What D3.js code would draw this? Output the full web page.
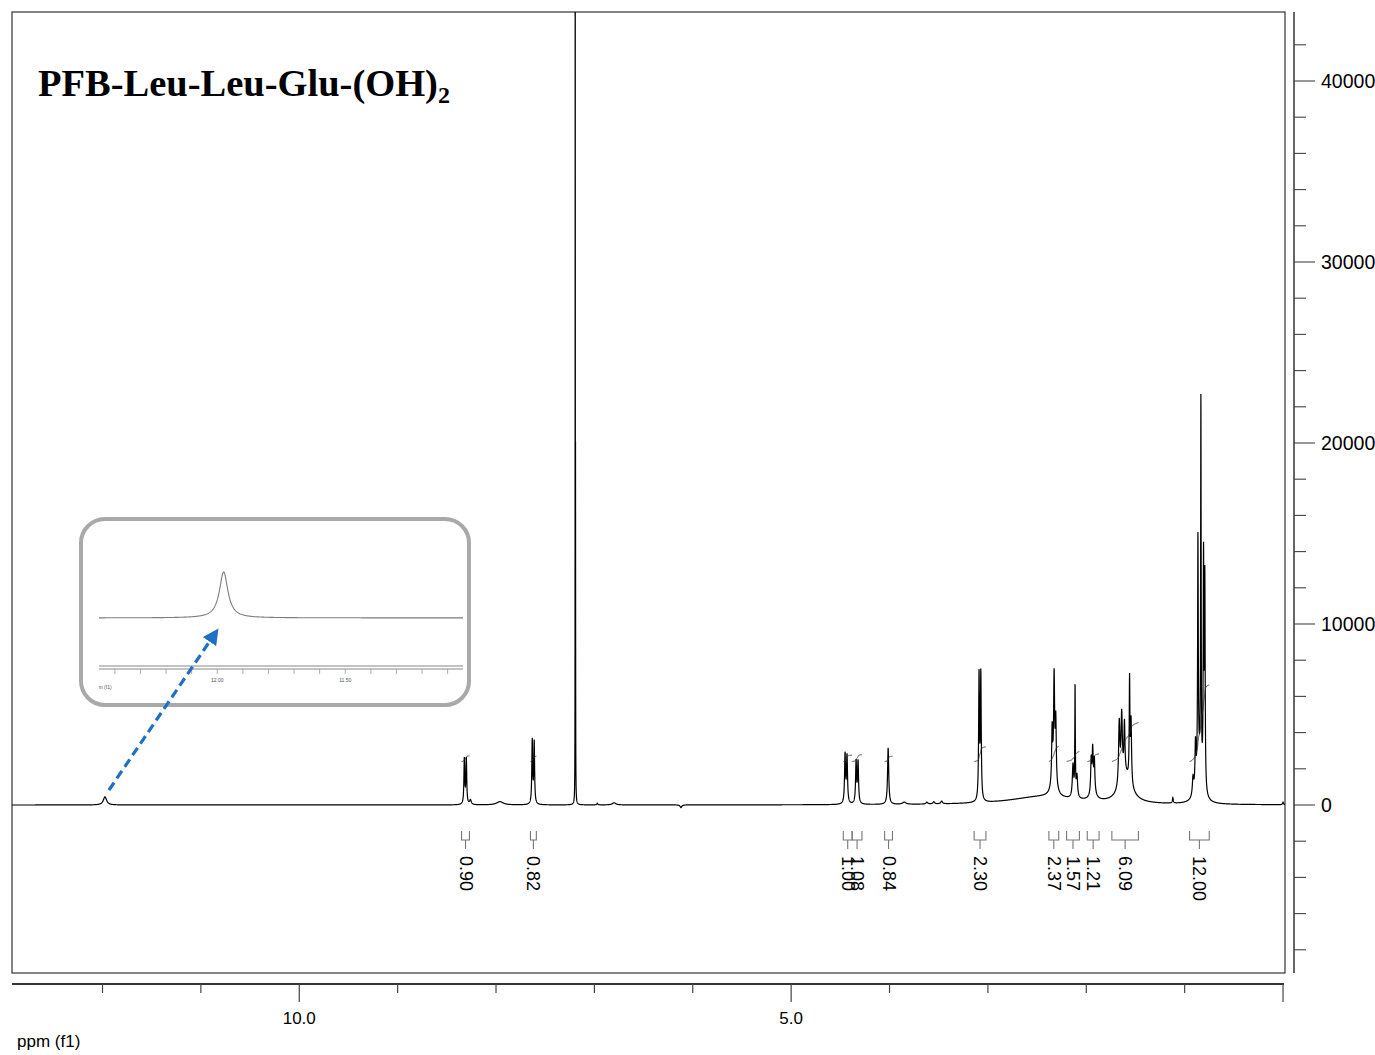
<!DOCTYPE html>
<html><head><meta charset="utf-8">
<script src="https://cdn.jsdelivr.net/npm/d3@7"></script>
<style>body{margin:0;background:#fff}svg{display:block}</style>
</head><body><svg id="c" width="1375" height="1055"></svg>
<script>
// ---- DATA ----
// Resolved peak lines: position (ppm), height (intensity), half-width (ppm)
const peakPpm    = [11.975, 8.322, 8.302, 8.26, 7.96, 7.632, 7.612, 7.195, 7.192, 6.97, 6.80, 6.12,
                    4.452, 4.432, 4.340, 4.320, 4.014, 3.85, 3.62, 3.55, 3.47,
                    3.090, 3.072, 2.45, 2.347, 2.327, 2.310, 2.33, 2.135, 2.114, 2.095,
                    1.950, 1.935, 1.918, 1.93, 1.665, 1.640, 1.612, 1.560, 1.545, 1.60,
                    1.12, 0.915, 0.890, 0.865, 0.835, 0.808, 0.795, 0.85, 0.0];
const peakHeight = [450, 2500, 2500, 250, 180, 3500, 3400, 80000, 17000, 100, 120, -150,
                    2700, 2600, 2300, 2300, 3100, 120, 100, 120, 150,
                    6900, 6900, 450, 3000, 5700, 3500, 800, 1800, 6000, 1200,
                    1800, 2200, 1700, 500, 3500, 3600, 2800, 5500, 3500, 1500,
                    300, 1000, 2500, 13000, 20500, 12500, 11500, 2000, 150];
const peakWidth  = [0.02, 0.005, 0.005, 0.01, 0.04, 0.005, 0.005, 0.0006, 0.0012, 0.005, 0.02, 0.01,
                    0.006, 0.006, 0.006, 0.006, 0.007, 0.02, 0.01, 0.01, 0.01,
                    0.005, 0.005, 0.4, 0.006, 0.006, 0.006, 0.03, 0.008, 0.003, 0.008,
                    0.006, 0.006, 0.006, 0.03, 0.008, 0.008, 0.006, 0.004, 0.006, 0.07,
                    0.005, 0.008, 0.006, 0.004, 0.003, 0.004, 0.004, 0.03, 0.005];

// Integration regions
const integralFrom   = [8.35, 7.65, 4.47, 4.38, 4.05, 3.14, 2.38, 2.20, 1.99, 1.74, 0.95];
const integralTo     = [8.27, 7.59, 4.38, 4.28, 3.97, 3.02, 2.28, 2.07, 1.87, 1.47, 0.75];
const integralLabels = ["0.90", "0.82", "1.00", "1.08", "0.84", "2.30", "2.37", "1.57", "1.21", "6.09", "12.00"];
const integralValues = [0.90, 0.82, 1.00, 1.08, 0.84, 2.30, 2.37, 1.57, 1.21, 6.09, 12.00];

// Axes
const xTicks      = [12, 11, 10, 9, 8, 7, 6, 5, 4, 3, 2, 1, 0];
const xMajorTicks = [10, 5, 0];
const xTickLabels = [{v: 10, t: "10.0"}, {v: 5, t: "5.0"}];
const yMajorTicks = [0, 10000, 20000, 30000, 40000];
const yTickLabels = ["0", "10000", "20000", "30000", "40000"];
const insetTicks = [12.4, 12.3, 12.2, 12.1, 12.0, 11.9, 11.8, 11.7, 11.6, 11.5, 11.4, 11.3, 11.2, 11.1];
const insetTickLabels = [{v: 12.00, t: "12.00"}, {v: 11.50, t: "11.50"}];

const title = "PFB-Leu-Leu-Glu-(OH)";
const titleSub = "2";

// ---- DRAW ----
const svg = d3.select("#c");
const L = 12, R = 1285, T = 12, B = 973;

const x = d3.scaleLinear().domain([12.92, -0.02]).range([L, R]);
const y = d3.scaleLinear().domain([-9282, 43812]).range([B, T]);

function spectrumAt(p) {
  let s = 0;
  for (let i = 0; i < peakPpm.length; i++) {
    const d = (p - peakPpm[i]) / peakWidth[i];
    s += peakHeight[i] / (1 + d * d);
  }
  return s;
}
const grid = d3.range(12.92, -0.021, -0.0008);
const spec = grid.map(p => [p, spectrumAt(p)]);

svg.append("defs").append("clipPath").attr("id", "plotclip")
  .append("rect").attr("x", L).attr("y", T).attr("width", R - L).attr("height", B - T);

// frame
svg.append("rect").attr("x", L).attr("y", T).attr("width", R - L).attr("height", B - T)
  .attr("fill", "none").attr("stroke", "#333").attr("stroke-width", 1.2);

// spectrum
const line = d3.line().x(d => x(d[0])).y(d => y(d[1]));
svg.append("path").datum(spec).attr("d", line).attr("clip-path", "url(#plotclip)")
  .attr("fill", "none").attr("stroke", "#000").attr("stroke-width", 1.2);

// integral curves + brackets + labels
const intG = svg.append("g");
const startLevel = 2400, unitRise = 353;
integralFrom.forEach((a, i) => {
  const b = integralTo[i];
  const pts = grid.filter(p => p <= a && p >= b);
  let cum = 0; const vals = pts.map(p => (cum += spectrumAt(p)));
  const tot = cum || 1;
  const curve = pts.map((p, k) => [p, startLevel + unitRise * integralValues[i] * vals[k] / tot]);
  intG.append("path").datum(curve).attr("d", line).attr("fill", "none")
    .attr("stroke", "#333").attr("stroke-width", 0.9);
  const xa = x(a), xb = x(b), xm = (xa + xb) / 2;
  intG.append("path")
    .attr("d", `M${xa},831V840H${xb}V831M${xm},840V849`)
    .attr("fill", "none").attr("stroke", "#777").attr("stroke-width", 1.1);
  intG.append("text").attr("transform", `translate(${xm},856) rotate(90)`)
    .attr("dominant-baseline", "central").attr("text-anchor", "start")
    .attr("font-family", "Liberation Sans, Arial, sans-serif").attr("font-size", 18)
    .attr("fill", "#000").text(integralLabels[i]);
});

// x axis
const xa = svg.append("g");
xa.append("line").attr("x1", L).attr("x2", 1284).attr("y1", 984).attr("y2", 984)
  .attr("stroke", "#333").attr("stroke-width", 2);
xa.selectAll("line.t").data(xTicks).join("line").attr("class", "t")
  .attr("x1", d => x(d)).attr("x2", d => x(d)).attr("y1", 984)
  .attr("y2", d => xMajorTicks.includes(d) ? 1002 : 993)
  .attr("stroke", "#444").attr("stroke-width", 1.2);
xa.selectAll("text").data(xTickLabels).join("text")
  .attr("x", d => x(d.v)).attr("y", 1024).attr("text-anchor", "middle")
  .attr("font-family", "Liberation Sans, Arial, sans-serif").attr("font-size", 17)
  .text(d => d.t);
svg.append("text").attr("x", 17).attr("y", 1047)
  .attr("font-family", "Liberation Sans, Arial, sans-serif").attr("font-size", 17)
  .text("ppm (f1)");

// y axis (right)
const YX = 1294;
const ya = svg.append("g");
ya.append("line").attr("x1", YX).attr("x2", YX).attr("y1", T).attr("y2", B)
  .attr("stroke", "#333").attr("stroke-width", 1.5);
const yMinor = d3.range(-8000, 43000, 2000);
ya.selectAll("line.t").data(yMinor).join("line").attr("class", "t")
  .attr("x1", YX).attr("x2", d => yMajorTicks.includes(d) ? 1315 : 1306)
  .attr("y1", d => y(d)).attr("y2", d => y(d))
  .attr("stroke", "#444").attr("stroke-width", 1.1);
ya.selectAll("text").data(yMajorTicks).join("text")
  .attr("x", 1321).attr("y", d => y(d)).attr("dominant-baseline", "central")
  .attr("font-family", "Liberation Sans, Arial, sans-serif").attr("font-size", 19.5)
  .text((d, i) => yTickLabels[i]);

// title
const tt = svg.append("text").attr("x", 38).attr("y", 96)
  .attr("font-family", "Liberation Serif, Times New Roman, serif").attr("font-weight", "bold")
  .attr("font-size", 38.5).attr("fill", "#000");
tt.append("tspan").text(title);
tt.append("tspan").attr("font-size", 24).attr("dy", 7).text(titleSub);

// inset
const ig = svg.append("g");
ig.append("rect").attr("x", 81).attr("y", 519).attr("width", 388).attr("height", 186)
  .attr("rx", 24).attr("fill", "#fff").attr("stroke", "#a9a9a9").attr("stroke-width", 4);
const ix = d3.scaleLinear().domain([12.462, 11.04]).range([99, 463]);
const iy = d3.scaleLinear().domain([0, 450]).range([618, 572]);
ig.append("defs").append("clipPath").attr("id", "iclip")
  .append("rect").attr("x", 99).attr("y", 530).attr("width", 364).attr("height", 170);
const igrid = d3.range(12.462, 11.039, -0.002);
ig.append("path").datum(igrid.map(p => [p, spectrumAt(p)]))
  .attr("d", d3.line().x(d => ix(d[0])).y(d => iy(d[1])))
  .attr("fill", "none").attr("stroke", "#7d7d7d").attr("stroke-width", 1.1);
ig.append("line").attr("x1", 99).attr("x2", 463).attr("y1", 666).attr("y2", 666)
  .attr("stroke", "#888").attr("stroke-width", 1);
ig.append("line").attr("x1", 99).attr("x2", 463).attr("y1", 669).attr("y2", 669)
  .attr("stroke", "#888").attr("stroke-width", 1);
ig.selectAll("line.it").data(insetTicks).join("line").attr("class", "it")
  .attr("x1", d => ix(d)).attr("x2", d => ix(d)).attr("y1", 669).attr("y2", 674)
  .attr("stroke", "#999").attr("stroke-width", 0.8);
ig.selectAll("text.il").data(insetTickLabels).join("text").attr("class", "il")
  .attr("x", d => ix(d.v)).attr("y", 682).attr("text-anchor", "middle")
  .attr("font-family", "Liberation Sans, Arial, sans-serif").attr("font-size", 5).attr("fill", "#555")
  .text(d => d.t);
ig.append("text").attr("x", 93).attr("y", 689).attr("clip-path", "url(#iclip)")
  .attr("font-family", "Liberation Sans, Arial, sans-serif").attr("font-size", 5).attr("fill", "#555")
  .text("ppm (f1)");

// arrow
const defs = svg.append("defs");
defs.append("marker").attr("id", "ah").attr("viewBox", "0 0 10 10").attr("refX", 5).attr("refY", 5)
  .attr("markerWidth", 5).attr("markerHeight", 5).attr("orient", "auto")
  .attr("markerUnits", "strokeWidth")
  .append("path").attr("d", "M0,0L10,5L0,10Z").attr("fill", "#1f6fc5");
svg.append("line").attr("x1", 109).attr("y1", 790).attr("x2", 214).attr("y2", 635)
  .attr("stroke", "#1f6fc5").attr("stroke-width", 3.2).attr("stroke-dasharray", "9,5")
  .attr("marker-end", "url(#ah)");
</script></body></html>
